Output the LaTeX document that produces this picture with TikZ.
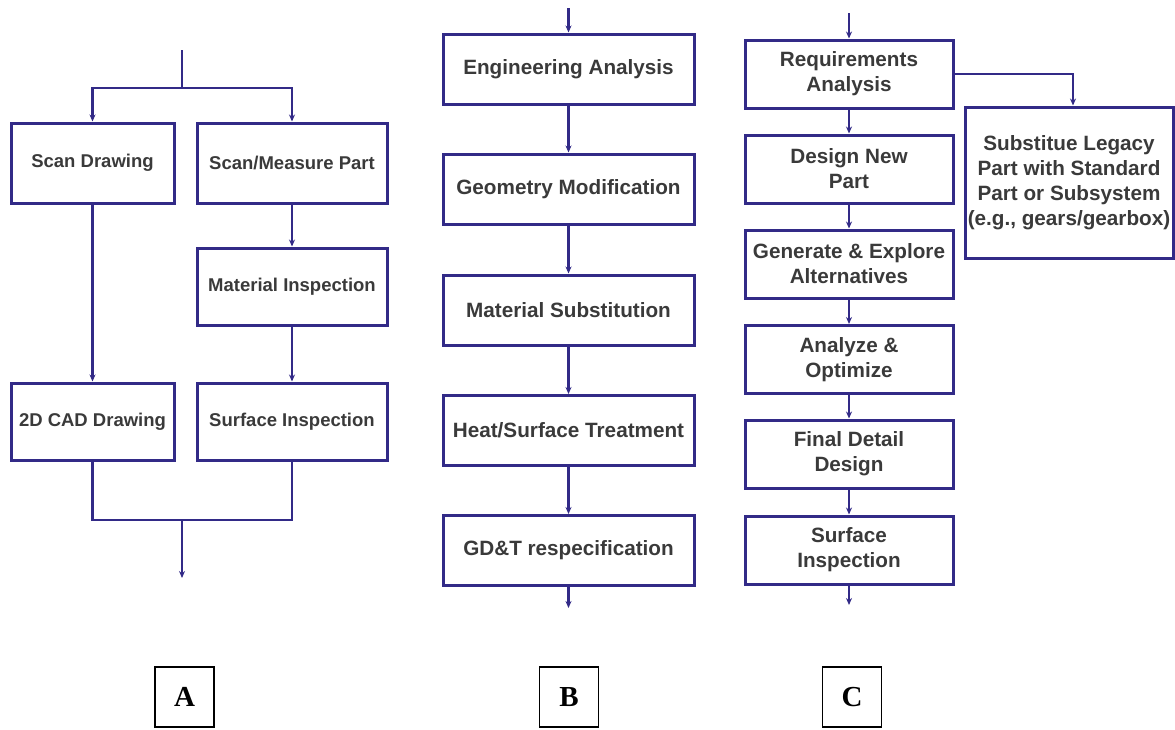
\documentclass[tikz,border=0pt]{standalone}
\usepackage{fontspec}
\setmainfont{Liberation Sans}
\newfontfamily\tagfont{Liberation Serif}
\usetikzlibrary{positioning, arrows.meta}
\definecolor{flowblue}{RGB}{50,42,135}
\definecolor{textgray}{RGB}{58,58,58}
\tikzset{
flowbox/.style={draw=flowblue, line width=3pt, rectangle, text=textgray, align=center, inner sep=0pt, font=\bfseries\fontsize{20.7}{25}\selectfont},
smallbox/.style={flowbox, font=\bfseries\fontsize{18.5}{22}\selectfont},
link/.style={draw=flowblue, line width=2.6pt},
arr/.style={link, -{Stealth[length=7pt, width=6pt]}},
tag/.style={draw=black, line width=1.8pt, minimum width=59pt, minimum height=60pt, inner sep=0pt, font=\tagfont\bfseries\fontsize{29}{29}\selectfont},
}

\begin{document}
\begin{tikzpicture}[x=1pt, y=-1pt]
    \useasboundingbox (0,0) rectangle (1175,729);

    %column A
    \node[smallbox, minimum width=163pt, minimum height=80pt]    (scan) at (92.5,163) {Scan Drawing};
    \node[smallbox, minimum width=190pt, minimum height=80pt]    (scanpart) at (292,163) {Scan/Measure Part};
    \node[smallbox, minimum width=190pt, minimum height=77pt]    (matinsp) at (292,286.5) {Material Inspection};
    \node[smallbox, minimum width=163pt, minimum height=77pt]    (cad) at (92.5,421.5) {2D CAD Drawing};
    \node[smallbox, minimum width=190pt, minimum height=77pt]    (surfA) at (292,421.5) {Surface Inspection};

    \coordinate (topA) at (182,50);
    \coordinate (splitA) at (182,88);
    \coordinate (joinA) at (182,520);
    \coordinate (outA) at (182,578);

    %lines A
    \draw[link]  (topA)--(splitA);
    \draw[arr]   (splitA) -| (scan);
    \draw[arr]   (splitA) -| (scanpart);
    \draw[arr]   (scan)--(cad);
    \draw[arr]   (scanpart)--(matinsp);
    \draw[arr]   (matinsp)--(surfA);
    \draw[link]  (cad) |- (joinA) -| (surfA);
    \draw[arr]   (joinA)--(outA);

    %column B
    \node[flowbox, minimum width=251pt, minimum height=70pt]    (eng) at (568.5,69) {Engineering Analysis};
    \node[flowbox, minimum width=251pt, minimum height=70pt]    (geom) at (568.5,189) {Geometry Modification};
    \node[flowbox, minimum width=251pt, minimum height=70pt]    (matsub) at (568.5,310) {Material Substitution};
    \node[flowbox, minimum width=251pt, minimum height=70pt]    (heat) at (568.5,430.5) {Heat/Surface Treatment};
    \node[flowbox, minimum width=251pt, minimum height=70pt]    (gdt) at (568.5,550.5) {GD\&T respecification};

    \coordinate (topB) at (568.5,8);
    \coordinate (outB) at (568.5,608);

    %lines B
    \draw[arr]   (topB)--(eng);
    \draw[arr]   (eng)--(geom);
    \draw[arr]   (geom)--(matsub);
    \draw[arr]   (matsub)--(heat);
    \draw[arr]   (heat)--(gdt);
    \draw[arr]   (gdt)--(outB);

    %column C
    \node[flowbox, minimum width=208pt, minimum height=68pt]    (req) at (849,74) {Requirements\\Analysis};
    \node[flowbox, minimum width=208pt, minimum height=68pt]    (design) at (849,169) {Design New\\Part};
    \node[flowbox, minimum width=208pt, minimum height=68pt]    (gen) at (849,264) {Generate \& Explore\\Alternatives};
    \node[flowbox, minimum width=208pt, minimum height=68pt]    (opt) at (849,359.5) {Analyze \&\\Optimize};
    \node[flowbox, minimum width=208pt, minimum height=68pt]    (final) at (849,454) {Final Detail\\Design};
    \node[flowbox, minimum width=208pt, minimum height=68pt]    (surfC) at (849,550) {Surface\\Inspection};
    \node[flowbox, minimum width=208pt, minimum height=151pt]   (subst) at (1069,182.5) {Substitue Legacy\\Part with Standard\\Part or Subsystem\\(e.g., gears/gearbox)};

    \coordinate (topC) at (849,13);
    \coordinate (outC) at (849,605);

    %lines C
    \draw[arr]   (topC)--(req);
    \draw[arr]   (req)--(design);
    \draw[arr]   (design)--(gen);
    \draw[arr]   (gen)--(opt);
    \draw[arr]   (opt)--(final);
    \draw[arr]   (final)--(surfC);
    \draw[arr]   (surfC)--(outC);
    \draw[arr]   (req.east) -| ([xshift=4pt]subst.north);

    %panel tags
    \node[tag] (tagA) at (184.5,697) {A};
    \node[tag] (tagB) at (569,697) {B};
    \node[tag] (tagC) at (852,697) {C};

\end{tikzpicture}
\end{document}
